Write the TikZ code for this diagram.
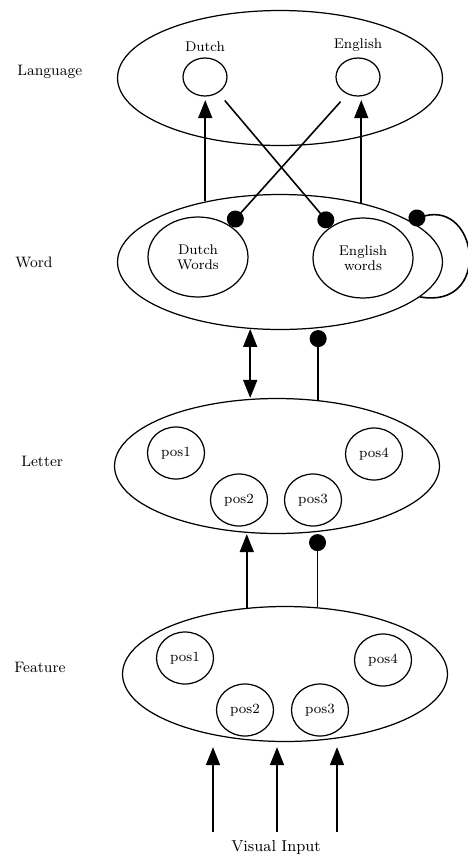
\documentclass[tikz,border=0pt]{standalone}
\usepackage{tikz}
\usetikzlibrary{arrows.meta,shapes.geometric,positioning,calc}
\tikzset{
    layer/.style={
        ellipse,
        draw=black,
        line width=0.7pt,
        minimum width=6.5cm,
        minimum height=2.7cm,
    },
    langunit/.style={
        ellipse,
        draw=black,
        line width=0.7pt,
        minimum width=0.88cm,
        minimum height=0.76cm,
        label distance=0.1cm,
    },
    wordunit/.style={
        ellipse,
        draw=black,
        line width=0.7pt,
        minimum width=2cm,
        minimum height=1.6cm,
        inner sep=0pt,
        align=center,
        font=\fontsize{8}{8.6}\selectfont,
    },
    posunit/.style={
        ellipse,
        draw=black,
        line width=0.7pt,
        minimum width=1.14cm,
        minimum height=1.04cm,
        inner sep=0pt,
        font=\fontsize{8}{9}\selectfont,
    },
    levelname/.style={
        anchor=west,
        inner sep=0pt,
        font=\fontsize{8.6}{10}\selectfont,
    },
    excite/.style={
        -{Triangle[width=0.28cm,length=0.36cm]},
    },
    inhibit/.style={
        -{Circle[length=0.34cm]},
    },
    mutual/.style={
        {Triangle[width=0.28cm,length=0.36cm]}-{Triangle[width=0.28cm,length=0.36cm]},
    },
    every edge/.style={
        draw,
        line width=0.9pt,
    },
    every label/.style={
        font=\fontsize{8}{9}\selectfont,
    },
}

\begin{document}
\begin{tikzpicture}[x=0.02cm, y=-0.02cm]
                \useasboundingbox (0,0) rectangle (467,859);

                % levels
                \node [levelname] (LangName) at (17,72) {Language};
                \node [levelname] (WordName) at (15,262) {Word};
                \node [levelname] (LetName) at (21,461) {Letter};
                \node [levelname] (FeatName) at (14,667) {Feature};

                \node [layer] (Lang) at (280,78) {};
                \node [layer] (Word) at (280,262) {};
                \node [layer] (Letter) at (277,466) {};
                \node [layer] (Feature) at (285,674) {};

                % units
                \node [langunit, label=above:Dutch] (Dutch) at (205,77) {};
                \node [langunit, label=above:English] (English) at (358,77) {};

                \node [wordunit] (DW) at (198,257) {Dutch\\Words};
                \node [wordunit] (EW) at (363,258) {English\\words};

                \node [posunit] (LetPos1) at (176,453) {pos1};
                \node [posunit] (LetPos2) at (239,500) {pos2};
                \node [posunit] (LetPos3) at (313,500) {pos3};
                \node [posunit] (LetPos4) at (374,454) {pos4};

                \node [posunit] (FeatPos1) at (185,658) {pos1};
                \node [posunit] (FeatPos2) at (245,710) {pos2};
                \node [posunit] (FeatPos3) at (320,710) {pos3};
                \node [posunit] (FeatPos4) at (383,660) {pos4};

                \node [font=\fontsize{9}{10}\selectfont] (Vis) at (276,848) {Visual Input};
                \coordinate (In1) at (213,832);
                \coordinate (In2) at (277,832);
                \coordinate (In3) at (337,832);

                % word -> language
                \draw (Word.141) edge[excite, shorten >=2pt] (Word.141 |- Dutch.south);
                \draw (Word.36) edge[excite, shorten >=2pt] (Word.36 |- English.south);
                \draw (Dutch.-50) edge[inhibit, shorten <=0.2cm] (EW.135);
                \draw (English.-122) edge[inhibit, shorten <=0.2cm] (DW.45);
                \draw (Word.-14) edge[inhibit, out=-10, in=15, looseness=2.4] (Word.18);

                % letter <-> word
                \draw (Word.-114) edge[mutual] (Word.-114 |- Letter.north);
                \draw (Letter.58) edge[inhibit] (Letter.58 |- Word.south);

                % feature -> letter
                \draw (Feature.120) edge[excite] (Feature.120 |- Letter.south);
                \draw (Feature.64) edge[inhibit] (Feature.64 |- Letter.south);

                % input
                \draw (In1) edge[excite, shorten >=0.1cm] (In1 |- Feature.south);
                \draw (In2) edge[excite, shorten >=0.1cm] (In2 |- Feature.south);
                \draw (In3) edge[excite, shorten >=0.1cm] (In3 |- Feature.south);

            \end{tikzpicture}
\end{document}
